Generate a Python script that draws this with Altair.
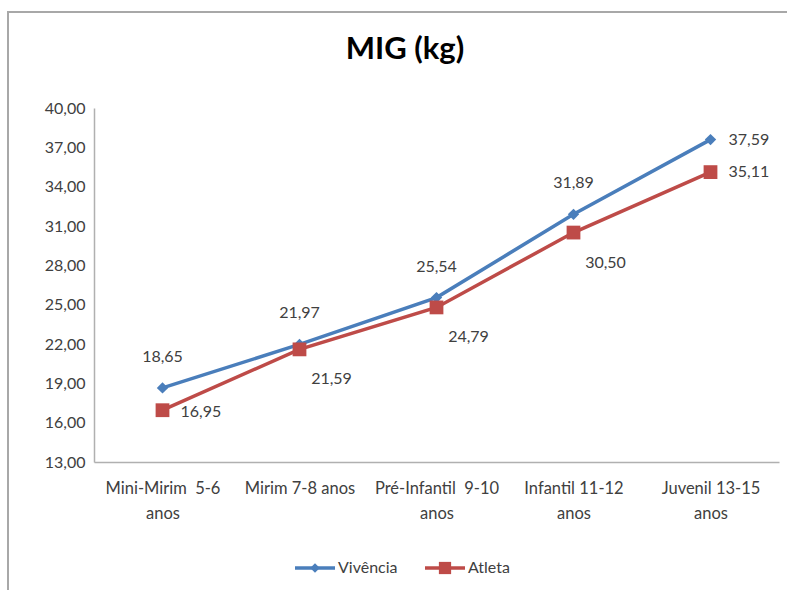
import altair as alt
import pandas as pd

# Categories (age groups) and mean MIG (kg) per group
categories = [
    "Mini-Mirim  5-6 anos",
    "Mirim 7-8 anos",
    "Pré-Infantil  9-10 anos",
    "Infantil 11-12 anos",
    "Juvenil 13-15 anos",
]
axis_label_lines = [
    ["Mini-Mirim\u00a0\u00a05-6", "anos"],
    ["Mirim 7-8 anos"],
    ["Pré-Infantil\u00a0\u00a09-10", "anos"],
    ["Infantil 11-12", "anos"],
    ["Juvenil 13-15", "anos"],
]
series_names = ["Vivência", "Atleta"]
vivencia = [18.65, 21.97, 25.54, 31.89, 37.59]
atleta = [16.95, 21.59, 24.79, 30.50, 35.11]
y_ticks = [13, 16, 19, 22, 25, 28, 31, 34, 37, 40]

BLUE = "#4A7EBB"
RED = "#BE4B48"
FONT = "Lato"
TEXT_COLOR = "#404040"

df = pd.DataFrame(
    {
        "categoria": categories * 2,
        "serie": [series_names[0]] * 5 + [series_names[1]] * 5,
        "valor": vivencia + atleta,
        "ordem": list(range(5)) * 2,
    }
)

# Multi-line axis labels via a lookup built from the lists above
label_map = "{" + ", ".join(
    "'" + c + "': [" + ", ".join("'" + s + "'" for s in lines) + "]"
    for c, lines in zip(categories, axis_label_lines)
) + "}"

x_enc = alt.X(
    "categoria:N",
    scale=alt.Scale(type="point", domain=categories, padding=0.5),
    axis=alt.Axis(
        title=None,
        labelAngle=0,
        labelExpr=label_map + "[datum.label]",
        labelFont=FONT,
        labelFontSize=16.5,
        labelColor=TEXT_COLOR,
        labelPadding=18,
        labelLineHeight=25,
        labelOverlap=False,
        ticks=False,
        domainColor="#b0b0b0",
        domainWidth=1.5,
        grid=False,
    ),
)
y_enc = alt.Y(
    "valor:Q",
    scale=alt.Scale(domain=[13, 40], nice=False, zero=False),
    axis=alt.Axis(
        title=None,
        values=y_ticks,
        labelExpr="replace(format(datum.value, '.2f'), '.', ',')",
        labelFont=FONT,
        labelFontSize=16,
        labelColor=TEXT_COLOR,
        labelPadding=9,
        labelOverlap=False,
        ticks=False,
        domainColor="#b0b0b0",
        domainWidth=1.5,
        grid=False,
    ),
)
color_enc = alt.Color(
    "serie:N",
    scale=alt.Scale(domain=series_names, range=[BLUE, RED]),
    legend=None,
)

base = alt.Chart(df).transform_calculate(
    rotulo="replace(format(datum.valor, '.2f'), '.', ',')"
)

lines = base.mark_line(strokeWidth=3.5).encode(x=x_enc, y=y_enc, color=color_enc)

viv_points = base.transform_filter(alt.datum.serie == series_names[0]).mark_point(
    shape="diamond", filled=True, size=130, opacity=1, color=BLUE
).encode(x=x_enc, y=y_enc)

atl_points = base.transform_filter(alt.datum.serie == series_names[1]).mark_point(
    shape="square", filled=True, size=190, opacity=1, color=RED
).encode(x=x_enc, y=y_enc)

label_style = dict(font=FONT, fontSize=16, color=TEXT_COLOR, baseline="middle")

viv_above = base.transform_filter(
    (alt.datum.serie == series_names[0]) & (alt.datum.ordem < 4)
).mark_text(align="center", dy=-31, **label_style).encode(
    x=x_enc, y=y_enc, text="rotulo:N"
)
viv_right = base.transform_filter(
    (alt.datum.serie == series_names[0]) & (alt.datum.ordem == 4)
).mark_text(align="left", dx=18, **label_style).encode(
    x=x_enc, y=y_enc, text="rotulo:N"
)
atl_first = base.transform_filter(
    (alt.datum.serie == series_names[1]) & (alt.datum.ordem == 0)
).mark_text(align="left", dx=18, dy=2, **label_style).encode(
    x=x_enc, y=y_enc, text="rotulo:N"
)
atl_below = base.transform_filter(
    (alt.datum.serie == series_names[1]) & (alt.datum.ordem > 0) & (alt.datum.ordem < 4)
).mark_text(align="center", dx=32, dy=30, **label_style).encode(
    x=x_enc, y=y_enc, text="rotulo:N"
)
atl_right = base.transform_filter(
    (alt.datum.serie == series_names[1]) & (alt.datum.ordem == 4)
).mark_text(align="left", dx=18, **label_style).encode(
    x=x_enc, y=y_enc, text="rotulo:N"
)

# Outer chart frame
one = pd.DataFrame({"k": [0]})
frame = alt.Chart(one).mark_rect(
    filled=False, stroke="#a8a8a8", strokeWidth=2, clip=False
).encode(
    x=alt.value(-86), x2=alt.value(900), y=alt.value(-96), y2=alt.value(800)
)

# Legend: line + marker + name for each series
leg_y = 460
legend_layers = []
for name, col, shape, size, x0, x1, tx in [
    (series_names[0], BLUE, "diamond", 90, 201, 241, 244),
    (series_names[1], RED, "square", 150, 331, 371, 374),
]:
    src = alt.Chart(pd.DataFrame({"serie": [name]}))
    legend_layers.append(
        src.mark_rule(color=col, strokeWidth=3.5).encode(
            x=alt.value(x0), x2=alt.value(x1), y=alt.value(leg_y)
        )
    )
    legend_layers.append(
        src.mark_point(shape=shape, filled=True, size=size, opacity=1, color=col).encode(
            x=alt.value((x0 + x1) / 2), y=alt.value(leg_y)
        )
    )
    legend_layers.append(
        src.mark_text(
            align="left", baseline="middle", font=FONT, fontSize=16, color=TEXT_COLOR
        ).encode(x=alt.value(tx), y=alt.value(leg_y), text="serie:N")
    )

# Chart title drawn inside the frame
title = alt.Chart(one).mark_text(
    align="center",
    baseline="alphabetic",
    font=FONT,
    fontSize=31,
    fontWeight="bold",
    color="#000000",
).encode(x=alt.value(311), y=alt.value(-49), text=alt.value("MIG (kg)"))

chart = alt.layer(
    frame,
    title,
    lines,
    viv_points,
    atl_points,
    viv_above,
    viv_right,
    atl_first,
    atl_below,
    atl_right,
    *legend_layers,
).properties(
    width=685,
    height=354,
    padding={"left": 94, "top": 108, "right": 8, "bottom": 128},
    autosize=alt.AutoSizeParams(type="none"),
    background="white",
).configure_view(stroke=None).configure_axis(labelOverlap=False, ticks=False)

chart.save("out.html", embed_options={"renderer": "svg", "actions": False})
